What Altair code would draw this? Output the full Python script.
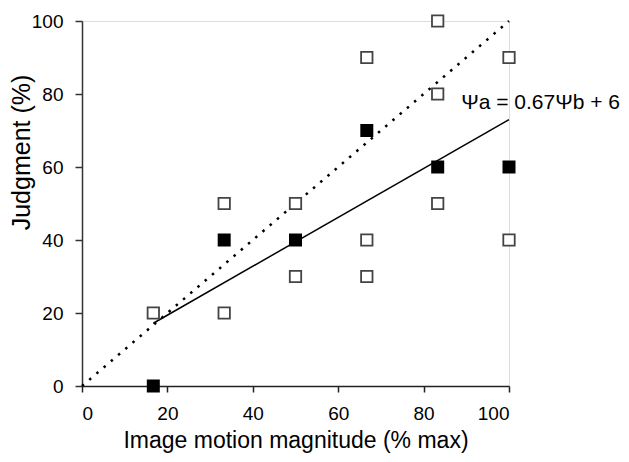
import altair as alt
import pandas as pd

# Data
open_x = [16.7, 33.3, 33.3, 50, 50, 66.7, 66.7, 66.7, 83.3, 83.3, 83.3, 100, 100]
open_y = [20, 50, 20, 50, 30, 90, 40, 30, 100, 80, 50, 90, 40]
filled_x = [16.7, 33.3, 50, 66.7, 83.3, 100]
filled_y = [0, 40, 40, 70, 60, 60]
fit_x = [16.7, 100]
fit_slope = 0.67
fit_intercept = 6
identity_x = [0, 100]
annotation = "Ψa = 0.67Ψb + 6"
annotation_pos = [88.8, 75.8]

FONT = "Liberation Sans"

open_df = pd.DataFrame({"x": open_x, "y": open_y})
filled_df = pd.DataFrame({"x": filled_x, "y": filled_y})
fit_df = pd.DataFrame({"x": fit_x, "y": [fit_slope * v + fit_intercept for v in fit_x]})
id_df = pd.DataFrame({"x": identity_x, "y": identity_x})
ann_df = pd.DataFrame({"x": [annotation_pos[0]], "y": [annotation_pos[1]], "t": [annotation]})

xs = alt.Scale(domain=[0, 100], nice=False)
ys = alt.Scale(domain=[0, 100], nice=False)

x_axis = alt.Axis(
    values=[0, 20, 40, 60, 80, 100], title="Image motion magnitude (% max)",
    grid=False, domainColor="#222", domainWidth=1.5, tickColor="#222", tickWidth=1.5,
    tickSize=6, labelPadding=12, labelFont=FONT, labelFontSize=19, labelColor="#000",
    titleFont=FONT, titleFontSize=23, titleFontWeight="normal", titleColor="#000",
    titleBaseline="alphabetic", titleY=61,
)
y_axis = alt.Axis(
    values=[0, 20, 40, 60, 80, 100], title="Judgment (%)",
    grid=False, domainColor="#333", domainWidth=1.5, tickColor="#333", tickWidth=1.5,
    tickSize=7, labelPadding=12, labelFont=FONT, labelFontSize=19, labelColor="#000",
    titleFont=FONT, titleFontSize=25, titleFontWeight="normal", titleColor="#000",
    titleBaseline="alphabetic", titleX=-53, titleY=131, titleAngle=270,
)

base_x = alt.X("x:Q", scale=xs, axis=x_axis)
base_y = alt.Y("y:Q", scale=ys, axis=y_axis)

identity = alt.Chart(id_df).mark_line(
    color="#000", strokeWidth=2.5, strokeDash=[2.5, 7]
).encode(x=base_x, y=base_y)

fit = alt.Chart(fit_df).mark_line(color="#000", strokeWidth=1.5).encode(
    x=alt.X("x:Q", scale=xs), y=alt.Y("y:Q", scale=ys)
)

opens = alt.Chart(open_df).mark_point(
    shape="square", filled=False, size=130, stroke="#444", strokeWidth=1.8,
    fill="white", fillOpacity=1, opacity=1
).encode(x=alt.X("x:Q", scale=xs), y=alt.Y("y:Q", scale=ys))

filleds = alt.Chart(filled_df).mark_point(
    shape="square", filled=True, size=169, color="#000", opacity=1
).encode(x=alt.X("x:Q", scale=xs), y=alt.Y("y:Q", scale=ys))

ann = alt.Chart(ann_df).mark_text(
    align="left", baseline="alphabetic", font=FONT, fontSize=21, color="#000"
).encode(x=alt.X("x:Q", scale=xs), y=alt.Y("y:Q", scale=ys), text="t:N")

chart = alt.layer(identity, fit, opens, filleds, ann).properties(
    width=427, height=365,
    padding={"left": 74, "top": 13, "right": 112, "bottom": 68},
    autosize=alt.AutoSizeParams(type="none"),
).configure_view(stroke=None).configure(background="white")

chart.save("out.html", embed_options={"renderer": "svg", "actions": False})
